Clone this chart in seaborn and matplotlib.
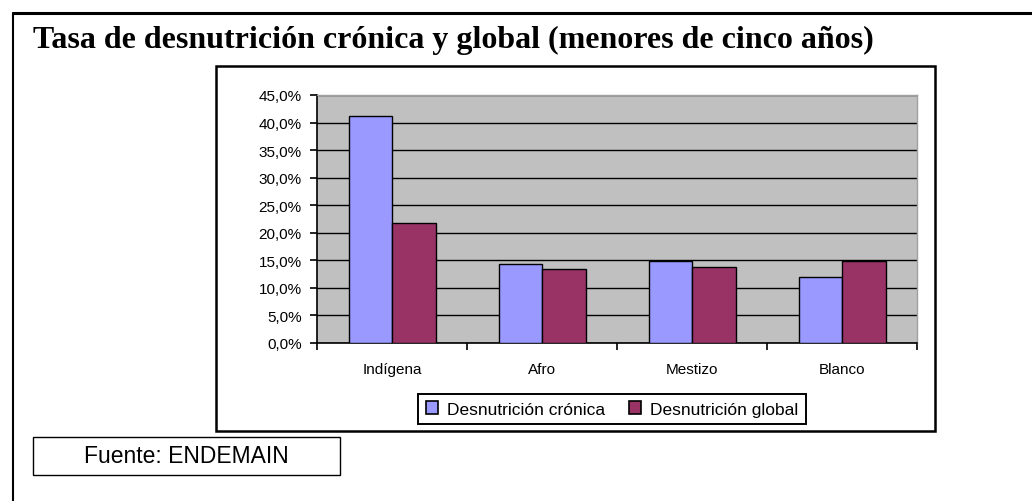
import pandas as pd
import seaborn as sns
import matplotlib.pyplot as plt
from matplotlib.ticker import FuncFormatter, MultipleLocator, FixedLocator
from matplotlib.patches import Rectangle
from matplotlib.lines import Line2D

# Data
grupos = ["Indígena", "Afro", "Mestizo", "Blanco"]
series = ["Desnutrición crónica", "Desnutrición global"]
cronica = [41.1, 14.3, 14.8, 12.0]
global_ = [21.7, 13.4, 13.8, 14.9]

df = pd.DataFrame({
    "grupo": grupos * 2,
    "serie": [series[0]] * 4 + [series[1]] * 4,
    "valor": cronica + global_,
})

sns.set_theme(style="white")
plt.rcParams["font.family"] = ["Liberation Sans", "DejaVu Sans"]
plt.rcParams["text.color"] = "black"
plt.rcParams["xtick.color"] = "black"
plt.rcParams["ytick.color"] = "black"

fig = plt.figure(figsize=(10.32, 5.02), dpi=100)
W, H = 1032, 502

def fx(x):
    return x / W

def fy(y):
    return 1 - y / H

# outer frame (top and left edges only visible)
fig.add_artist(Line2D([fx(13), 1.0], [fy(14), fy(14)], color="black", lw=2.2))
fig.add_artist(Line2D([fx(13), fx(13)], [fy(14), 0.0], color="black", lw=1.5))

# chart frame
fig.add_artist(Rectangle((fx(216), fy(432)), fx(935 - 216), (432 - 67) / H,
                         fill=False, edgecolor="black", lw=1.8))

# title
fig.text(fx(33), fy(48), "Tasa de desnutrición crónica y global (menores de cinco años)",
         family=["Liberation Serif", "DejaVu Serif"], weight="bold", fontsize=23,
         ha="left", va="baseline")

# source box
fig.add_artist(Rectangle((fx(33), fy(476)), fx(340 - 33), (476 - 438) / H,
                         fill=False, edgecolor="black", lw=1.0))
fig.text(fx(186), fy(457), "Fuente: ENDEMAIN",
         family=["Liberation Sans", "DejaVu Sans"], fontsize=16.5,
         ha="center", va="center")

ax = fig.add_axes([fx(317), fy(344), fx(917 - 317), (344 - 96) / H])
sns.barplot(data=df, x="grupo", y="valor", hue="serie", order=grupos,
            hue_order=series, palette=["#9999FF", "#993366"], width=0.58,
            edgecolor="black", linewidth=1.0, saturation=1, ax=ax, zorder=3)

ax.set_facecolor("#C0C0C0")
ax.set_ylim(0, 45)
ax.set_xlim(-0.5, 3.5)
ax.yaxis.set_major_locator(MultipleLocator(5))
ax.yaxis.set_major_formatter(FuncFormatter(lambda v, p: f"{v:.1f}%".replace(".", ",")))
ax.grid(axis="y", color="black", lw=1.0, zorder=0)
ax.set_axisbelow(True)
ax.set_xlabel("")
ax.set_ylabel("")

ax.xaxis.set_minor_locator(FixedLocator([-0.5, 0.5, 1.5, 2.5, 3.5]))
ax.tick_params(axis="x", which="major", length=0, pad=14, labelsize=11)
ax.tick_params(axis="x", which="minor", length=5, width=1.2, color="black", direction="out")
ax.tick_params(axis="y", length=5, width=1.2, color="black", direction="out", pad=6, labelsize=11)
ax.tick_params(bottom=True, left=True, which="both")

for s in ["left", "bottom"]:
    ax.spines[s].set_color("black")
    ax.spines[s].set_linewidth(1.2)
for s in ["top", "right"]:
    ax.spines[s].set_color("#A0A0A0")
    ax.spines[s].set_linewidth(1.0)

ax.legend_.remove()
handles = [Rectangle((0, 0), 1, 1, facecolor=c, edgecolor="black", lw=1.2)
           for c in ["#9999FF", "#993366"]]
fig.legend(handles, series, loc="center", bbox_to_anchor=(fx(612), fy(410)),
           ncol=2, frameon=True, fancybox=False, edgecolor="black", fontsize=12.5,
           handlelength=0.7, handleheight=0.7, handletextpad=0.5, columnspacing=1.4,
           borderpad=0.45, framealpha=1)
fig.legends[0].get_frame().set_linewidth(1.4)

fig.savefig("out.png", dpi=100, facecolor="white")
